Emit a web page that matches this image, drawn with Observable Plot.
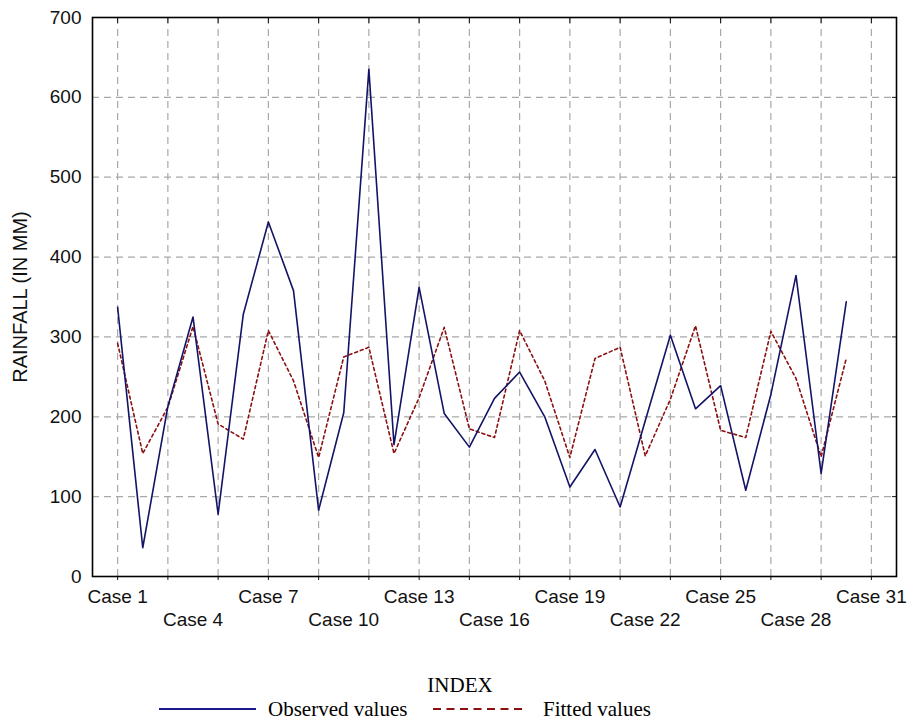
<!DOCTYPE html>
<html>
<head>
<meta charset="utf-8">
<script src="https://cdn.jsdelivr.net/npm/d3@7"></script>
<script src="https://cdn.jsdelivr.net/npm/@observablehq/plot@0.6"></script>
<style>
  html, body { margin: 0; padding: 0; background: #fff; }
  #wrap { width: 912px; height: 721px; position: relative; overflow: hidden; }
  #chart { height: 650px; }
  #xtitle { font-family: "Liberation Serif", "Times New Roman", serif; font-size: 21px; line-height: 24px; width: 920px; text-align: center; margin-top: 23px; color: #000; }
  #legend { position: relative; height: 24px; width: 912px; }
  .lg { position: absolute; font-family: "Liberation Serif", "Times New Roman", serif; font-size: 21px; line-height: 24px; color: #000; top: 0; white-space: nowrap; }
  .sw { position: absolute; top: 4px; display: block; }
</style>
</head>
<body>
<div id="wrap">
  <div id="chart"></div>
  <div id="xtitle">INDEX</div>
  <div id="legend">
    <svg class="sw" style="left:159px" width="97" height="16"><line x1="0" x2="97" y1="8" y2="8" stroke="#1a1a8a" stroke-width="2.2"/></svg>
    <div class="lg" style="left:268px">Observed values</div>
    <svg class="sw" style="left:433px" width="94" height="16"><line x1="0" x2="94" y1="8" y2="8" stroke="#8b1010" stroke-width="2.2" stroke-dasharray="8,5.5"/></svg>
    <div class="lg" style="left:543px">Fitted values</div>
  </div>
</div>
<script>
const cases = [1,2,3,4,5,6,7,8,9,10,11,12,13,14,15,16,17,18,19,20,21,22,23,24,25,26,27,28,29,30];
const observed = [337, 36, 213, 325, 78, 328, 444, 358, 83, 205, 635, 165, 362, 204, 162, 223, 256, 200, 112, 159, 87, 195, 302, 210, 239, 108, 228, 377, 129, 344];
const fitted = [292, 154, 212, 313, 191, 172, 308, 245, 149, 275, 287, 154, 224, 312, 185, 174, 308, 245, 149, 273, 287, 151, 222, 314, 183, 174, 307, 248, 150, 273];
const gridCases = [1,3,5,7,9,11,13,15,17,19,21,23,25,27,29,31];
const labelRow1 = [1,7,13,19,25,31];
const labelRow2 = [4,10,16,22,28];
const yTicks = [0,100,200,300,400,500,600,700];
const yGrid = [100,200,300,400,500,600];
const yTitle = "RAINFALL (IN MM)";

const obsData = cases.map((c, i) => ({c, v: observed[i]}));
const fitData = cases.map((c, i) => ({c, v: fitted[i]}));

const chart = Plot.plot({
  width: 912,
  height: 650,
  marginTop: 17,
  marginBottom: 74,
  marginLeft: 92,
  marginRight: 16,
  style: {fontFamily: "'Liberation Sans', Arial, sans-serif", fontSize: "19px", color: "#111", background: "#fff"},
  x: {domain: [0, 32]},
  y: {domain: [0, 700]},
  marks: [
    Plot.gridX(gridCases, {stroke: "#a8a8a8", strokeOpacity: 1, strokeDasharray: "7,5", strokeWidth: 1.2}),
    Plot.gridY(yGrid, {stroke: "#a8a8a8", strokeOpacity: 1, strokeDasharray: "7,5", strokeWidth: 1.2}),
    Plot.axisY({ticks: yTicks, tickSize: 0, tickPadding: 11, label: null}),
    Plot.axisY({anchor: "right", ticks: yGrid, tickSize: -5, tickFormat: () => "", label: null}),
    Plot.axisX({ticks: gridCases, tickSize: 4, tickFormat: () => "", label: null}),
    Plot.axisX({anchor: "top", ticks: gridCases, tickSize: -5, tickFormat: () => "", label: null}),
    Plot.axisX({ticks: labelRow1, tickSize: 0, tickPadding: 13, tickFormat: d => `Case ${d}`, label: null}),
    Plot.axisX({ticks: labelRow2, tickSize: 0, tickPadding: 36, tickFormat: d => `Case ${d}`, label: null}),
    Plot.text([yTitle], {frameAnchor: "left", textAnchor: "middle", lineAnchor: "middle", rotate: -90, dx: -72, fontSize: 20, fill: "#111", style: "letter-spacing:2px"}),
    Plot.line(fitData, {x: "c", y: "v", stroke: "#8b1010", strokeWidth: 1.6, strokeDasharray: "3,3"}),
    Plot.line(obsData, {x: "c", y: "v", stroke: "#141466", strokeWidth: 1.6}),
    Plot.frame({stroke: "#000", strokeWidth: 1.6})
  ]
});
document.getElementById("chart").appendChild(chart);
</script>
</body>
</html>
